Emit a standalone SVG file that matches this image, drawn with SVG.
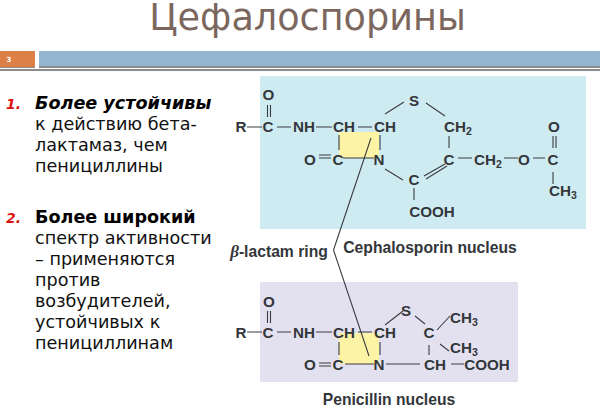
<svg xmlns="http://www.w3.org/2000/svg" width="600" height="417" viewBox="0 0 600 417">
<style>
.l{font-family:"DejaVu Sans",sans-serif;font-size:17.6px;fill:#111}
.b{font-weight:bold;font-style:italic;fill:#000}
.n{font-family:"DejaVu Sans",sans-serif;font-size:14px;font-weight:bold;font-style:italic;fill:#e01010}
.c{font-family:"Liberation Sans",Arial,sans-serif;font-size:15.2px;font-weight:bold;fill:#33363a;text-anchor:middle}
.t{font-size:15.7px}
.s{font-size:10.500px}
.k{stroke:#3a3d40;stroke-width:1.1;fill:none}
</style>
<rect width="600" height="417" fill="#fff"/>
<text x="307.500" y="30" text-anchor="middle" font-family="DejaVu Sans,sans-serif" font-size="36.6" fill="#7b675d">Цефалоспорины</text>
<rect x="0" y="51" width="35" height="16" fill="#dd8047"/>
<text x="9" y="62" text-anchor="middle" font-family="DejaVu Sans,sans-serif" font-size="7" font-weight="bold" fill="#fff">3</text>
<rect x="39" y="51" width="561" height="16" fill="#94b6d2"/>
<rect x="0" y="69" width="600" height="2" fill="#8c8c8c"/>
<rect x="39" y="66" width="561" height="2" fill="#8c8c8c"/>
<rect x="0" y="67" width="35" height="1" fill="#8c8c8c"/>

<g id="list-1">
<text class="n" x="6" y="109">1.</text>
<text class="l b" x="35" y="109">Более устойчивы</text>
<text class="l" x="35" y="130">к действию бета-</text>
<text class="l" x="35" y="151">лактамаз, чем</text>
<text class="l" x="35" y="172">пенициллины</text>
</g>
<g id="list-2">
<text class="n" x="6" y="223">2.</text>
<text class="l b" x="35" y="223" style="font-style:normal">Более широкий</text>
<text class="l" x="35" y="244">спектр активности</text>
<text class="l" x="35" y="265">– применяются</text>
<text class="l" x="35" y="286">против</text>
<text class="l" x="35" y="307">возбудителей,</text>
<text class="l" x="35" y="328">устойчивых к</text>
<text class="l" x="35" y="349">пенициллинам</text>
</g>

<rect x="260" y="76" width="326" height="153" fill="#cfebf2"/>
<rect x="260" y="282" width="258" height="100" fill="#e3e1f0"/>
<rect x="339" y="132" width="40" height="26" fill="#fcf3a5"/>
<rect x="339" y="333" width="40" height="31" fill="#fcf3a5"/>

<g id="connectors" class="k">
<path d="M267.500 105V117M270.500 105V117"/>
<path d="M247 127H262M277 127H291M316 127H332M358 127H372"/>
<path d="M339 135V150M380 135V150M319 155H331M319 158H331M343 158H374"/>
<path d="M385 114L404 102M426 103L445 116"/>
<path d="M449 136V148M385 169L403 180M424 176L445 164M426 179L447 166"/>
<path d="M458 158H472M504 158H518M533 158H545"/>
<path d="M553 136V148M556 136V148M553 172V184M414 188V200"/>
<path d="M267.500 311V323M270.500 311V323"/>
<path d="M247 332H262M277 332H291M316 332H332M358 332H372"/>
<path d="M339 342V355M380 342V355M319 363H331M319 366H331M345 364H374"/>
<path d="M385 325L403 311M415 316L425 324M437 330L450 316M440 344L449 351"/>
<path d="M429 345V355M386 364H420M451 364H464"/>
<path d="M371 138L333.500 250L369 356"/>
</g>

<g id="ceph-nucleus">
<text class="c" x="268.500" y="100">O</text>
<text class="c" x="241" y="132">R</text>
<text class="c" x="268" y="132">C</text>
<text class="c" x="304" y="132">NH</text>
<text class="c" x="344" y="132">CH</text>
<text class="c" x="385" y="132">CH</text>
<text class="c" x="414" y="106">S</text>
<text class="c" x="458" y="132">CH<tspan class="s" dy="3">2</tspan></text>
<text class="c" x="554" y="132">O</text>
<text class="c" x="310" y="164.500">O</text>
<text class="c" x="338" y="164.500">C</text>
<text class="c" x="379" y="164.500">N</text>
<text class="c" x="449" y="164.500">C</text>
<text class="c" x="488" y="164.500">CH<tspan class="s" dy="3">2</tspan></text>
<text class="c" x="524" y="164.500">O</text>
<text class="c" x="553" y="164.500">C</text>
<text class="c" x="414" y="185">C</text>
<text class="c" x="432" y="217">COOH</text>
<text class="c" x="563" y="196">CH<tspan class="s" dy="3">3</tspan></text>
</g>
<g id="labels">
<text class="c t" x="430" y="253">Cephalosporin nucleus</text>
<text class="c t" x="279" y="256.500"><tspan font-family="Liberation Serif,serif" font-style="italic" font-size="17">β</tspan>-lactam ring</text>
<text class="c t" x="389" y="405">Penicillin nucleus</text>
</g>
<g id="pen-nucleus">
<text class="c" x="269" y="306.500">O</text>
<text class="c" x="241" y="338">R</text>
<text class="c" x="268" y="338">C</text>
<text class="c" x="304" y="338">NH</text>
<text class="c" x="344" y="338">CH</text>
<text class="c" x="385" y="338">CH</text>
<text class="c" x="406" y="315.500">S</text>
<text class="c" x="429" y="338">C</text>
<text class="c" x="464" y="323">CH<tspan class="s" dy="3">3</tspan></text>
<text class="c" x="464" y="353">CH<tspan class="s" dy="3">3</tspan></text>
<text class="c" x="310" y="370">O</text>
<text class="c" x="338" y="370">C</text>
<text class="c" x="379" y="370">N</text>
<text class="c" x="435" y="370">CH</text>
<text class="c" x="487" y="370">COOH</text>
</g>
</svg>
